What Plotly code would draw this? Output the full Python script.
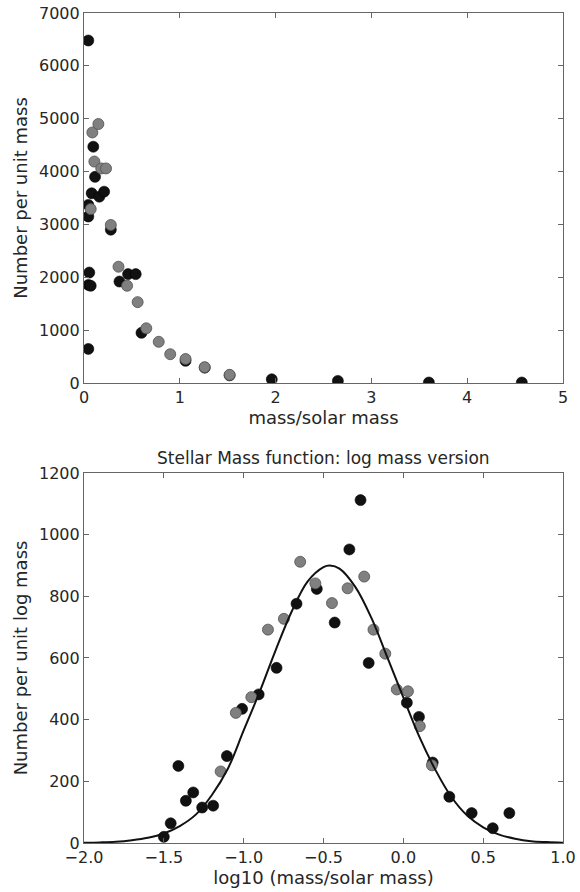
import plotly.graph_objects as go
from plotly.subplots import make_subplots

# ---- top panel: number per unit mass ----
mass_black = [0.045, 0.097, 0.115, 0.08, 0.16, 0.21, 0.045, 0.045, 0.28, 0.37, 0.46, 0.54,
              0.055, 0.045, 0.07, 0.60, 0.045, 1.06, 1.26, 1.52, 1.96, 2.65, 3.60, 4.57]
num_black = [6480, 4470, 3900, 3590, 3525, 3620, 3370, 3150, 2900, 1920, 2060, 2060,
             2090, 1855, 1840, 950, 645, 420, 290, 145, 70, 40, 10, 10]
mass_gray = [0.07, 0.087, 0.15, 0.108, 0.18, 0.23, 0.28, 0.36, 0.45, 0.56, 0.65, 0.78,
             0.90, 1.06, 1.26, 1.52]
num_gray = [3290, 4740, 4900, 4190, 4060, 4060, 2990, 2200, 1840, 1530, 1035, 780,
            545, 455, 300, 155]

# ---- bottom panel: number per unit log mass ----
logm_black = [-1.50, -1.457, -1.409, -1.362, -1.316, -1.260, -1.191, -1.105, -1.010, -0.906,
              -0.794, -0.669, -0.542, -0.430, -0.338, -0.268, -0.217, 0.022, 0.098, 0.184,
              0.288, 0.428, 0.560, 0.664]
nlog_black = [20, 64, 250, 137, 164, 115, 121, 282, 435, 482,
              568, 776, 824, 715, 952, 1112, 584, 455, 409, 261,
              150, 97, 48, 97]
logm_gray = [-1.144, -1.049, -0.952, -0.848, -0.748, -0.646, -0.551, -0.447, -0.349, -0.245,
             -0.187, -0.113, -0.041, 0.029, 0.103, 0.179]
nlog_gray = [232, 422, 473, 692, 727, 912, 842, 778, 826, 864,
             692, 614, 498, 492, 379, 252]

# fitted curve, values
fit_x = [-2.0, -1.9, -1.8, -1.7, -1.6, -1.5, -1.4, -1.3, -1.2, -1.1, -1.0, -0.9, -0.8, -0.7,
         -0.6, -0.5, -0.46, -0.4, -0.3, -0.2, -0.1, 0.0, 0.1, 0.2, 0.3, 0.4, 0.5, 0.6, 0.7,
         0.8, 0.9, 1.0]
fit_y = [1, 2, 4, 9, 17, 31, 55, 92, 155, 240, 365, 490, 625, 750, 848, 895, 900, 890, 830,
         730, 602, 472, 345, 238, 150, 89, 51, 27, 14, 6, 3, 1]

title_bottom = "Stellar Mass function: log mass version"

FONT = "DejaVu Sans"
TXT = "#262626"
AX = "#666666"

fig = make_subplots(rows=2, cols=1, vertical_spacing=0.1084)

mk_black = dict(size=11, color="#111111", line=dict(color="#000000", width=0.6))
mk_gray = dict(size=11, color="#808080", line=dict(color="#505050", width=0.8))

fig.add_trace(go.Scatter(x=mass_black, y=num_black, mode="markers", marker=mk_black,
                         showlegend=False), row=1, col=1)
fig.add_trace(go.Scatter(x=mass_gray, y=num_gray, mode="markers", marker=mk_gray,
                         showlegend=False), row=1, col=1)

fig.add_trace(go.Scatter(x=logm_black, y=nlog_black, mode="markers", marker=mk_black,
                         showlegend=False), row=2, col=1)
fig.add_trace(go.Scatter(x=logm_gray, y=nlog_gray, mode="markers", marker=mk_gray,
                         showlegend=False), row=2, col=1)
fig.add_trace(go.Scatter(x=fit_x, y=fit_y, mode="lines", line=dict(color="#111111", width=2, shape="spline"),
                         showlegend=False), row=2, col=1)

axis_common = dict(showgrid=False, zeroline=False, showline=True, linecolor=AX, linewidth=1.2,
                   mirror="ticks", ticks="inside", ticklen=5, tickcolor=AX, tickwidth=1,
                   automargin=False, ticklabeloverflow="allow",
                   tickfont=dict(family=FONT, size=16, color=TXT),
                   title_font=dict(family=FONT, size=18, color=TXT))

fig.update_xaxes(**axis_common)
fig.update_yaxes(**axis_common)

fig.update_xaxes(range=[0, 5], tickvals=[0, 1, 2, 3, 4, 5], title_text="mass/solar mass",
                 title_standoff=4, row=1, col=1)
fig.update_yaxes(range=[0, 7000], tickvals=[0, 1000, 2000, 3000, 4000, 5000, 6000, 7000],
                 title_text="Number per unit mass", title_standoff=6, row=1, col=1)

xt = [-2.0, -1.5, -1.0, -0.5, 0.0, 0.5, 1.0]
fig.update_xaxes(range=[-2, 1], tickvals=xt,
                 ticktext=[("\u2212%.1f" % abs(v)) if v < 0 else "%.1f" % v for v in xt],
                 title_text="log10 (mass/solar mass)", title_standoff=4, row=2, col=1)
fig.update_yaxes(range=[0, 1200], tickvals=[0, 200, 400, 600, 800, 1000, 1200],
                 title_text="Number per unit log mass", title_standoff=6, row=2, col=1)

fig.add_annotation(text=title_bottom, xref="x2 domain", yref="y2 domain", x=0.5, y=1.0,
                   yanchor="bottom", yshift=3, showarrow=False,
                   font=dict(family=FONT, size=17, color=TXT))

fig.update_layout(width=580, height=892, margin=dict(l=84, r=17, t=13, b=49),
                  paper_bgcolor="white", plot_bgcolor="white",
                  font=dict(family=FONT, color=TXT))

# remove the browser's default 8px body margin so the figure fills the window
fig.write_html("out.html", config={"displayModeBar": False},
               post_script="document.body.style.margin='0px';")
